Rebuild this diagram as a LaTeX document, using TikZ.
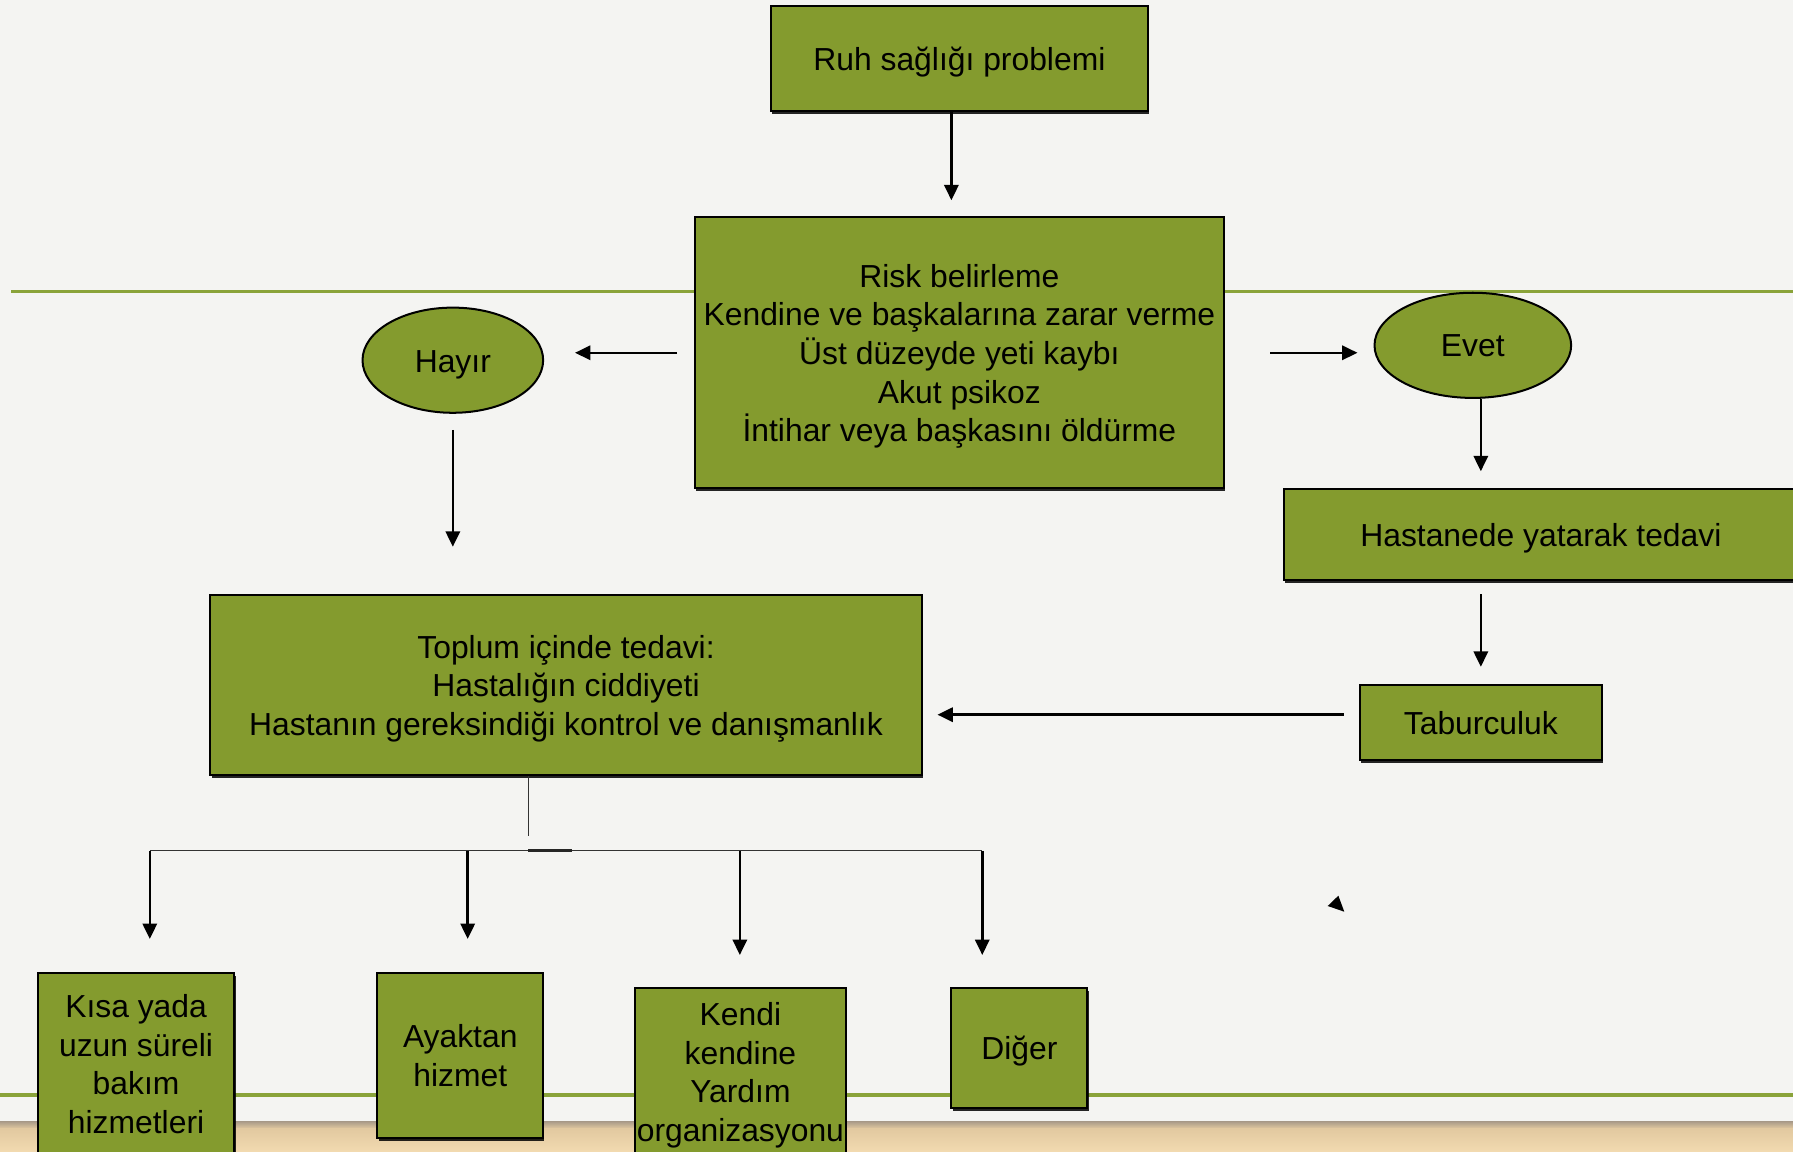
\documentclass[tikz,border=0pt]{standalone}
\usepackage{fontspec}
\setmainfont{Liberation Sans}
\usetikzlibrary{arrows.meta,shapes.geometric,shadows}
\definecolor{boxgreen}{RGB}{132,155,46}
\definecolor{linegreen}{RGB}{138,163,58}
\definecolor{bgcol}{RGB}{244,244,242}
\definecolor{tanTop}{RGB}{172,157,138}
\definecolor{tanA}{RGB}{226,201,160}
\definecolor{tanB}{RGB}{242,218,176}
\newcommand\firststrut{\rule{0pt}{0.53cm}}
\begin{document}
\begin{tikzpicture}[x=0.02cm,y=-0.02cm,
  every node/.style={font=\fontsize{15.85}{19.2}\selectfont, text=black, align=center, inner sep=0pt},
  gbox/.style={rectangle, draw=black, line width=1pt, fill=boxgreen,
     drop shadow={shadow xshift=0.02cm, shadow yshift=-0.05cm, fill=black, opacity=0.85}},
  gell/.style={ellipse, draw=black, line width=1pt, fill=boxgreen},
  arr/.style={draw=black, line width=1.25pt, -{Triangle[width=0.25cm,length=0.27cm]}},
  thin/.style={draw=black!80, line width=0.6pt},
  deco/.style={draw=linegreen, line width=1.6pt}]
\useasboundingbox (0,0) rectangle (1568,1007);
% background
\fill[bgcol] (0,0) rectangle (1568,1007);
\shade[top color=tanTop, bottom color=tanA] (0,981) rectangle (1568,987);
\shade[top color=tanA, bottom color=tanB] (0,987) rectangle (1568,1007);
% decorative lines
\draw[deco] (10,255) -- (1568,255);
\draw[deco] (0,957.5) -- (1568,957.5);

% nodes
\node[gbox, minimum width=6.6cm, minimum height=1.84cm] (ruh) at (839,51) {\firststrut Ruh sağlığı problemi};
\node[gbox, minimum width=9.24cm, minimum height=4.74cm] (risk) at (839,308.5)
  {\firststrut Risk belirleme\\Kendine ve başkalarına zarar verme\\Üst düzeyde yeti kaybı\\Akut psikoz\\İntihar veya başkasını öldürme};
\node[gell, minimum width=3.16cm, minimum height=1.84cm] (hayir) at (396,315) {\firststrut Hayır};
\node[gell, minimum width=3.44cm, minimum height=1.84cm] (evet) at (1288,302) {Evet};
\node[gbox, minimum width=8.98cm, minimum height=1.58cm] (hast) at (1347.5,467.5) {\firststrut Hastanede yatarak tedavi};
\node[gbox, minimum width=4.24cm, minimum height=1.32cm] (tab) at (1295,632) {Taburculuk};
\node[gbox, minimum width=12.44cm, minimum height=3.16cm] (toplum) at (495,599)
  {\firststrut Toplum içinde tedavi:\\Hastalığın ciddiyeti\\Hastanın gereksindiği kontrol ve danışmanlık};
\node[gbox, minimum width=3.44cm, minimum height=3.18cm] (kisa) at (119,930.5) {Kısa yada\\uzun süreli\\bakım\\hizmetleri};
\node[gbox, minimum width=2.9cm, minimum height=2.88cm] (ayak) at (402.5,923) {Ayaktan\\hizmet};
\node[gbox, minimum width=3.7cm, minimum height=2.92cm] (kendi) at (647.5,937) {\firststrut Kendi\\kendine\\Yardım\\organizasyonu};
\node[gbox, minimum width=2.38cm, minimum height=2.1cm] (diger) at (891.5,916.5) {\firststrut Diğer};

% connectors
\draw[arr, shorten >=0.28cm] ([xshift=-0.14cm]ruh.south) -- ([xshift=-0.14cm]risk.north);
\draw[arr, shorten <=0.3cm, shorten >=0.54cm] (risk.west) -- (risk.west -| hayir.east);
\draw[arr, shorten <=0.8cm, shorten >=0.28cm] (risk.east) -- (risk.east -| evet.west);
\draw[arr, shorten >=0.3cm] ([xshift=0.14cm]evet.south) -- ([xshift=0.14cm]evet.south |- hast.north);
\draw[arr, shorten <=0.24cm, shorten >=0.3cm] (tab.north |- hast.south) -- (tab.north);
\draw[arr, shorten <=0.26cm, shorten >=0.26cm] ([yshift=0.14cm]tab.west) -- ([yshift=0.14cm]tab.west -| toplum.east);
\draw[arr, shorten <=0.28cm, shorten >=0.82cm] (hayir.south) -- (hayir.south |- toplum.north);

% tree
\coordinate (tj) at (462,731);
\coordinate (b1) at (131,744);
\coordinate (b2) at (409,744);
\coordinate (b3) at (647,744);
\coordinate (b4) at (859,744);
\draw[thin] (toplum.south -| tj) -- (tj);
\draw[thin] (b1) -- (b4);
\draw[line width=1.4pt, black!85] (462,744) -- (500,744);
\draw[arr, shorten >=0.58cm] (b1) -- (b1 |- kisa.north);
\draw[arr, shorten >=0.58cm] (b2) -- (b2 |- ayak.north);
\draw[arr, shorten >=0.56cm] (b3) -- (b3 |- kendi.north);
\draw[arr, shorten >=0.56cm] (b4) -- (b4 |- diger.north);

% stray arrowhead
\fill[black] (1170.4,783.3) -- (1161.1,792.3) -- (1175.6,797.3) -- cycle;
\end{tikzpicture}
\end{document}
